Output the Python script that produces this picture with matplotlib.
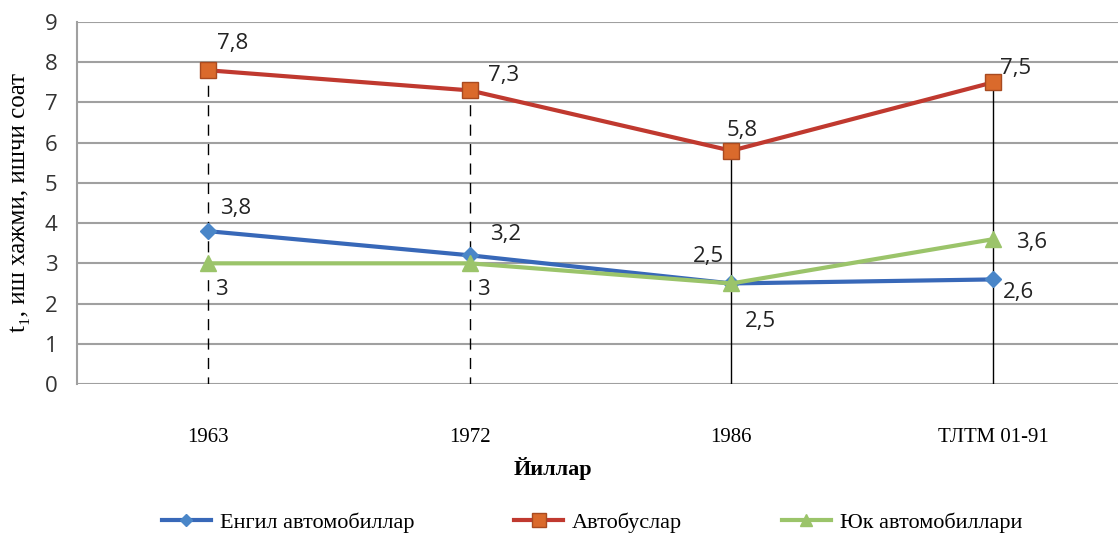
import matplotlib.pyplot as plt

years = ['1963', '1972', '1986', 'ТЛТМ 01-91']
cars = [3.8, 3.2, 2.5, 2.6]
buses = [7.8, 7.3, 5.8, 7.5]
trucks = [3.0, 3.0, 2.5, 3.6]

cars_lbl = ['3,8', '3,2', '2,5', '2,6']
buses_lbl = ['7,8', '7,3', '5,8', '7,5']
trucks_lbl = ['3', '3', '2,5', '3,6']

fig = plt.figure(figsize=(11.18, 5.35), dpi=100)
ax = fig.add_axes([77 / 1118, 151 / 535, 1047 / 1118, 362 / 535])

xs = list(range(len(years)))
sans = 'Open Sans'
serif = 'Liberation Serif'

# drop lines from the bus values down to the axis
for i, x in enumerate(xs):
    ls = (0, (8, 6)) if i < 2 else '-'
    ax.plot([x, x], [-0.1, buses[i]], color='black', lw=1, ls=ls, zorder=2)

ax.plot(xs, cars, color='#3868B8', lw=3, marker='D', ms=8,
        mfc='#4A86C8', mec='#4A86C8', label='Енгил автомобиллар', zorder=4)
ax.plot(xs, buses, color='#C0392F', lw=3, marker='s', ms=12,
        mfc='#DA6A2C', mec='#A84A20', label='Автобуслар', zorder=4)
ax.plot(xs, trucks, color='#9BC46A', lw=3, marker='^', ms=11,
        mfc='#9BC46A', mec='#9BC46A', label='Юк автомобиллари', zorder=5)

# value labels (pixel offsets from each point)
off = {
    'cars': [(12, 23), (20, 21), (-39, 27), (10, -13)],
    'buses': [(9, 27), (18, 15), (-5, 20), (7, 14)],
    'trucks': [(7, -26), (7, -26), (14, -38), (23, -3)],
}
for vals, lbls, key in [(cars, cars_lbl, 'cars'), (buses, buses_lbl, 'buses'),
                        (trucks, trucks_lbl, 'trucks')]:
    for x, v, t, (dx, dy) in zip(xs, vals, lbls, off[key]):
        ax.annotate(t, (x, v), xytext=(dx, dy), textcoords='offset pixels',
                    ha='left', va='center', fontsize=16, family=sans,
                    color='#222222', zorder=6)

ax.set_xlim(-0.5, 3.5)
ax.set_ylim(0, 9)
ax.set_yticks(range(10))
ax.set_xticks(xs)
ax.set_xticklabels(years, family=serif, fontsize=15)
ax.tick_params(axis='x', length=0, pad=32)
ax.tick_params(axis='y', length=0, pad=14, labelsize=16, labelcolor='#333333')
for lab in ax.get_yticklabels():
    lab.set_family(sans)

ax.grid(axis='y', color='#A0A0A0', lw=1.5)
ax.set_axisbelow(True)
for s in ['top', 'right', 'bottom']:
    ax.spines[s].set_visible(False)
ax.spines['left'].set_color('#A0A0A0')
ax.spines['left'].set_linewidth(1.5)

ax.set_ylabel('t₁, иш хажми, ишчи соат', family=serif, fontsize=18, labelpad=11)
fig.text(553 / 1118, 1 - 468 / 535, 'Йиллар', family=serif, fontsize=16,
         fontweight='bold', ha='center', va='center')

fig.legend(loc='center', bbox_to_anchor=(592 / 1118, 1 - 523 / 535), ncol=3,
           frameon=False, prop={'family': serif, 'size': 16},
           columnspacing=4.5, handlelength=2.2, handletextpad=0.4, markerscale=0.8)

fig.savefig('out.png', dpi=100)
